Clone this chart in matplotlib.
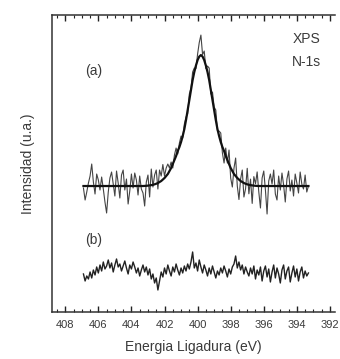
import numpy as np
import matplotlib
matplotlib.use("Agg")
import matplotlib.pyplot as plt
from matplotlib.ticker import MultipleLocator

plt.rcParams['font.family'] = ['Liberation Sans', 'DejaVu Sans']

# energy grid of the scans (eV), 0.1 eV step
ev_start, ev_stop, n_pts = 406.9, 393.3, 137
energy = np.linspace(ev_start, ev_stop, n_pts)

# spectrum (a): N-1s signal (arb. units)
spec_a = [
    124, 112, 120, 129, 136, 148, 130, 118, 138, 132,
    122, 135, 123, 110, 99, 120, 134, 140, 128, 116,
    141, 129, 114, 137, 142, 122, 133, 108, 121, 138,
    124, 139, 132, 117, 136, 123, 119, 106, 130, 137,
    115, 143, 125, 137, 142, 123, 142, 136, 147.5, 136,
    144, 148, 144, 150, 144, 157, 164, 158, 169, 176,
    174, 188, 195, 198, 218, 224, 240, 244, 243.5, 258,
    269.5, 277, 257.5, 261, 243.5, 246, 244, 218, 220, 205,
    202, 181, 181, 179, 159, 149, 164, 149, 162, 134,
    125, 144, 154, 126, 112.5, 133, 142, 115, 123.3, 143.7,
    118.2, 132.9, 108.6, 135.4, 128.2, 140.1, 120, 104, 134, 141,
    122, 98, 131, 138, 128, 142, 118, 112, 136, 122,
    139, 127, 110, 133, 141, 121, 132, 116, 138, 129,
    119, 140, 128, 123, 137, 120, 126,
]

# fitted curve for (a), centred at 399.8 eV
fit_ev = [406.9, 403.3, 403.2, 403.1, 403.0, 402.9, 402.8, 402.7, 402.6, 402.5,
          402.4, 402.3, 402.2, 402.1, 402.0, 401.9, 401.8, 401.7, 401.6, 401.5,
          401.4, 401.3, 401.2, 401.1, 401.0, 400.9, 400.8, 400.7, 400.6, 400.5,
          400.4, 400.3, 400.2, 400.1, 400.0, 399.9, 399.8, 399.7, 399.6, 399.5,
          399.4, 399.3, 399.2, 399.1, 399.0, 398.9, 398.8, 398.7, 398.6, 398.5,
          398.4, 398.3, 398.2, 398.1, 398.0, 397.9, 397.8, 397.7, 397.6, 397.5,
          397.4, 397.3, 397.2, 397.1, 397.0, 396.9, 396.8, 396.7, 396.6, 396.5,
          396.4, 396.3, 396.2, 396.1, 396.0, 393.3]
fit_a = [126, 126, 126.1, 126.2, 126.4, 126.6, 126.9, 127.2, 127.7, 128.3,
         129, 130, 131, 132.5, 134, 136, 138, 141, 144, 148,
         152, 156, 161, 165, 170, 176, 183, 192, 202, 212,
         222, 232, 240, 246.5, 252, 255.5, 257, 255.5, 252, 246.5,
         240, 232, 222, 212, 202, 192, 183, 176, 170, 165,
         161, 156, 152, 148, 144, 141, 138, 136, 134, 132.5,
         131, 130, 129, 128.3, 127.7, 127.2, 126.9, 126.6, 126.4, 126.2,
         126.1, 126, 126, 126, 126, 126]

# spectrum (b)
spec_b = [
    38, 31, 36, 33, 40, 34, 42, 37, 45, 39,
    47, 41, 50, 43, 46, 52, 44, 49, 40, 47,
    53, 45, 48, 41, 46, 51, 44, 38, 47, 43,
    50, 45, 39, 44, 36, 42, 47, 40, 45, 37,
    43, 33, 38, 29, 34, 22, 31, 40, 35, 44,
    38, 47, 41, 36, 45, 40, 48, 42, 37, 44,
    39, 46, 41, 48, 43, 50, 60, 44, 49, 41,
    52, 45, 39, 47, 42, 36, 44, 38, 46, 40,
    34, 41, 37, 44, 39, 46, 41, 35, 43, 38,
    45, 48, 56, 44, 50, 42, 47, 38, 45, 40,
    36, 44, 38, 46, 33, 42, 37, 45, 31, 41,
    46, 35, 43, 30, 40, 47, 34, 44, 38, 29,
    42, 47, 33, 41, 45, 30, 39, 46, 35, 43,
    31, 40, 45, 34, 41, 36, 39,
]

txt = '#3a3a3a'

fig = plt.figure(figsize=(3.40, 3.59), dpi=100)
ax = fig.add_axes([0.153, 0.131, 0.832, 0.827])

ax.plot(energy, spec_a, color='#444444', lw=0.8)
ax.plot(fit_ev, fit_a, color='#111111', lw=1.6)
ax.plot(energy, spec_b, color='#222222', lw=1.0)

ax.set_xlim(408.8, 391.7)
ax.set_ylim(0, 297)
ax.set_yticks([])

ax.xaxis.set_major_locator(MultipleLocator(2))
ax.xaxis.set_minor_locator(MultipleLocator(0.5))
ax.tick_params(axis='x', which='both', direction='in', top=True,
               color='#222222', labelsize=8, labelcolor=txt, pad=6)
ax.tick_params(axis='x', which='major', length=4, width=1.0)
ax.tick_params(axis='x', which='minor', length=2, width=0.8)

ax.spines['right'].set_visible(False)
for s in ['left', 'top', 'bottom']:
    ax.spines[s].set_color('#333333')
    ax.spines[s].set_linewidth(1.1)

ax.set_xlabel('Energia Ligadura (eV)', fontsize=10, color=txt, labelpad=7)
ax.set_ylabel('Intensidad (u.a.)', fontsize=10, color=txt, labelpad=12)

ax.text(406.8, 241, '(a)', fontsize=10, color=txt, ha='left', va='center')
ax.text(406.8, 72, '(b)', fontsize=10, color=txt, ha='left', va='center')
ax.text(393.4, 273, 'XPS', fontsize=10, color=txt, ha='center', va='center')
ax.text(393.4, 250, 'N-1s', fontsize=10, color=txt, ha='center', va='center')

fig.savefig('out.png', dpi=100)
